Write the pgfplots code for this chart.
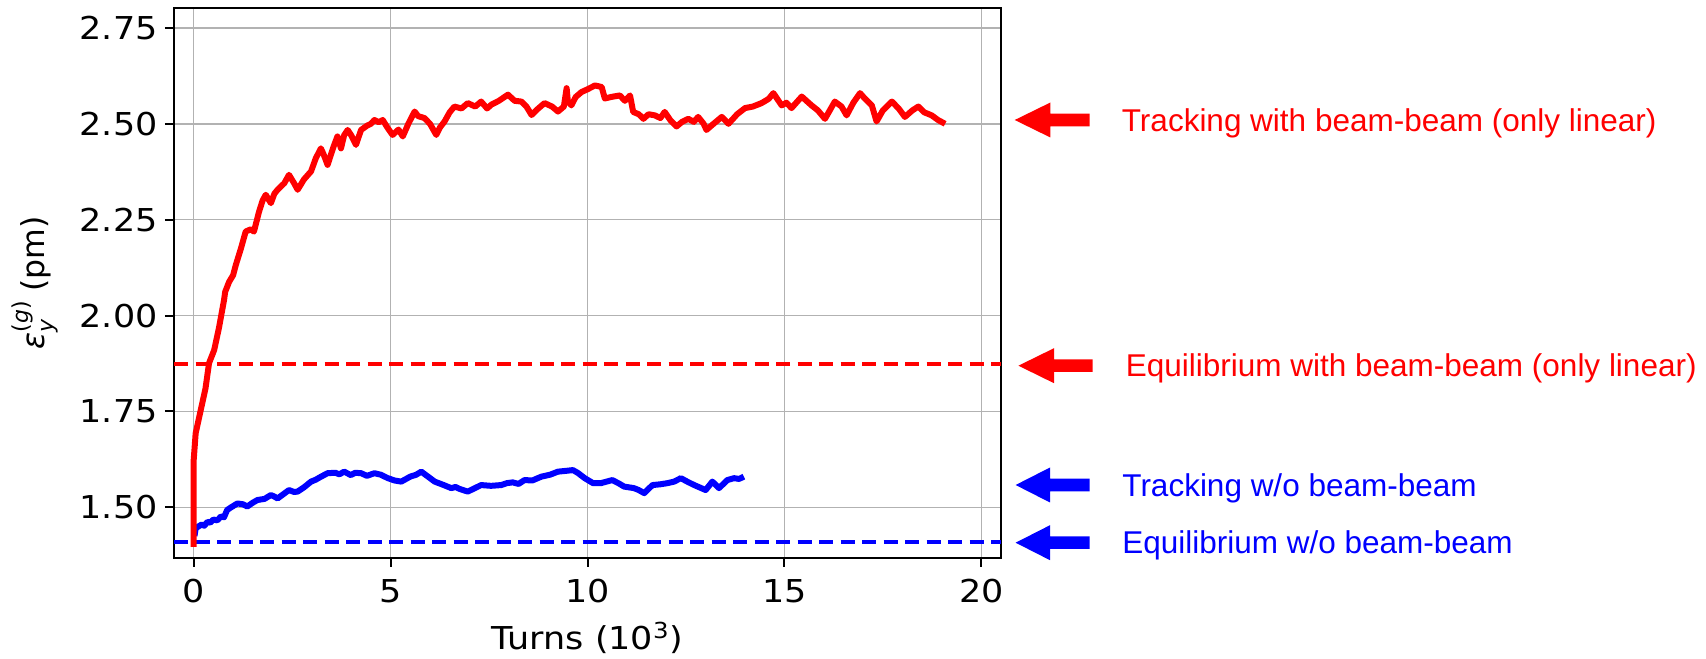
\documentclass[border=0pt]{standalone}
\usepackage{fontspec}
\setmainfont{DejaVu Sans}
\newfontfamily\tickfont{DejaVu Sans}[FakeStretch=1.11]
\newfontfamily\notefont{Liberation Sans}
\usepackage{pgfplots}
\pgfplotsset{compat=1.18}
\definecolor{pyred}{RGB}{255,0,0}
\definecolor{pyblue}{RGB}{0,0,255}
\newcommand{\lblsize}{\fontsize{15.75}{18.9}\selectfont}
\newcommand{\scr}{\fontsize{11}{11}\selectfont}

% block arrow pointing left: tip x, centre y, head base x, tail x (in px units of the scope)
\newcommand{\blockarrow}[5]{%
  \fill[#1] (#2,#3) -- (#4,#3-17.5) -- (#4,#3-6.3) -- (#5,#3-6.3)
            -- (#5,#3+6.3) -- (#4,#3+6.3) -- (#4,#3+17.5) -- cycle;}

\begin{document}
\begin{tikzpicture}
\useasboundingbox (0,0) rectangle (853pt,329pt);

\begin{axis}[
  at={(87pt,50.15pt)}, anchor=south west,
  scale only axis, width=413.5pt, height=274.85pt,
  xmin=-0.5, xmax=20.5, ymin=1.3686, ymax=2.802,
  xtick={0,5,10,15,20}, xticklabels={0,5,10,15,20},
  ytick={1.5,1.75,2,2.25,2.5,2.75},
  yticklabels={1.50,1.75,2.00,2.25,2.50,2.75},
  tick pos=left, tick align=outside, major tick length=4.5pt,
  every tick/.style={black, line width=1pt},
  axis line style={black, line width=1pt},
  grid=major, major grid style={gray!60, line width=0.75pt},
  tick label style={font=\tickfont\lblsize, inner sep=0pt},
  xticklabel style={anchor=north, yshift=-6pt},
  yticklabel style={anchor=east, xshift=-3.5pt},
  every axis x label/.style={at={(axis description cs:0.5,0)}, anchor=base,
    yshift=-45.8pt, inner sep=0pt, font=\tickfont\lblsize},
  every axis y label/.style={at={(axis description cs:0,0.5)}, xshift=-58pt,
    rotate=90, anchor=south, inner sep=0pt, font=\lblsize},
  xlabel={Turns (10\textsuperscript{3})},
  ylabel={{\itshape ε}\rlap{\raisebox{-0.5ex}{\scr\itshape y}}\raisebox{0.95ex}{\scr(\textit{g})}\ (pm)},
]

% equilibrium emittances
\addplot[pyred, line width=2pt, dash pattern=on 7pt off 3.75pt] coordinates {(-0.5,1.873) (20.5,1.873)};
\addplot[pyblue, line width=2pt, dash pattern=on 7pt off 3.75pt] coordinates {(-0.5,1.409) (20.5,1.409)};

% tracking without beam-beam
\addplot[pyblue, line width=3pt, line join=round] coordinates {
(0.02,1.425) (0.05,1.445) (0.12,1.450) (0.20,1.455) (0.27,1.452) (0.35,1.462)
(0.42,1.460) (0.50,1.468) (0.60,1.466) (0.69,1.476) (0.77,1.474) (0.85,1.493)
(0.95,1.500) (1.11,1.510) (1.25,1.508) (1.36,1.502) (1.50,1.512) (1.62,1.519)
(1.80,1.522) (1.96,1.532) (2.05,1.528) (2.13,1.523) (2.30,1.536) (2.42,1.545)
(2.55,1.540) (2.64,1.541) (2.80,1.552) (2.98,1.567) (3.10,1.572) (3.20,1.578)
(3.40,1.589) (3.60,1.590) (3.70,1.586) (3.82,1.593) (3.99,1.584) (4.10,1.590)
(4.25,1.589) (4.40,1.582) (4.59,1.589) (4.75,1.585) (4.93,1.576) (5.10,1.570)
(5.27,1.567) (5.50,1.580) (5.65,1.585) (5.78,1.593) (5.95,1.580) (6.12,1.567)
(6.35,1.558) (6.54,1.550) (6.65,1.553) (6.75,1.548) (6.96,1.541) (7.10,1.548)
(7.30,1.558) (7.55,1.556) (7.81,1.558) (7.95,1.563) (8.10,1.565) (8.25,1.561)
(8.40,1.571) (8.60,1.570) (8.83,1.580) (9.05,1.585) (9.25,1.593) (9.45,1.595)
(9.63,1.597) (9.75,1.590) (9.93,1.576) (10.14,1.563) (10.34,1.563) (10.63,1.571)
(10.80,1.562) (10.93,1.554) (11.18,1.550) (11.30,1.545) (11.44,1.537) (11.65,1.558)
(11.85,1.560) (12.03,1.563) (12.20,1.567) (12.37,1.576) (12.55,1.566) (12.71,1.558)
(13.00,1.545) (13.17,1.567) (13.34,1.550) (13.55,1.571) (13.72,1.576) (13.85,1.574)
(13.97,1.580)
};

% tracking with beam-beam (only linear)
\addplot[pyred, line width=3pt, line join=round] coordinates {
(0.00,1.397) (0.00,1.500) (0.00,1.623) (0.05,1.693) (0.18,1.754) (0.30,1.810)
(0.39,1.876) (0.52,1.910) (0.64,1.967) (0.77,2.040) (0.80,2.062) (0.90,2.088)
(1.00,2.105) (1.07,2.132) (1.20,2.175) (1.32,2.219) (1.45,2.225) (1.53,2.219)
(1.66,2.271) (1.75,2.300) (1.83,2.315) (1.96,2.293) (2.05,2.318) (2.13,2.328)
(2.30,2.345) (2.42,2.367) (2.55,2.345) (2.64,2.328) (2.80,2.355) (2.98,2.376)
(3.10,2.410) (3.23,2.436) (3.30,2.420) (3.40,2.393) (3.55,2.440) (3.65,2.467)
(3.74,2.436) (3.82,2.470) (3.91,2.484) (4.00,2.470) (4.12,2.445) (4.25,2.484)
(4.40,2.495) (4.50,2.500) (4.59,2.510) (4.70,2.504) (4.80,2.510) (4.92,2.490)
(5.05,2.471) (5.20,2.485) (5.31,2.467) (5.45,2.500) (5.61,2.532) (5.70,2.520)
(5.86,2.515) (6.00,2.500) (6.16,2.471) (6.25,2.490) (6.37,2.506) (6.50,2.530)
(6.62,2.545) (6.80,2.540) (6.96,2.554) (7.15,2.545) (7.30,2.558) (7.45,2.540)
(7.56,2.550) (7.75,2.560) (7.98,2.576) (8.15,2.560) (8.32,2.558) (8.45,2.545)
(8.58,2.523) (8.75,2.540) (8.91,2.554) (9.10,2.545) (9.25,2.532) (9.40,2.545)
(9.47,2.593) (9.50,2.560) (9.59,2.548) (9.70,2.570) (9.85,2.583) (10.00,2.590)
(10.19,2.600) (10.36,2.596) (10.44,2.566) (10.60,2.570) (10.82,2.574) (10.95,2.560)
(11.08,2.574) (11.16,2.531) (11.30,2.525) (11.42,2.513) (11.55,2.525) (11.71,2.522)
(11.85,2.515) (11.96,2.531) (12.10,2.510) (12.26,2.493) (12.40,2.505) (12.56,2.513)
(12.70,2.505) (12.81,2.518) (12.95,2.500) (13.02,2.484) (13.20,2.500) (13.41,2.518)
(13.58,2.500) (13.80,2.525) (14.00,2.541) (14.20,2.545) (14.42,2.554) (14.60,2.565)
(14.72,2.580) (14.93,2.548) (15.05,2.555) (15.18,2.541) (15.44,2.571) (15.69,2.548)
(15.85,2.535) (16.03,2.513) (16.28,2.558) (16.45,2.545) (16.58,2.522) (16.75,2.555)
(16.92,2.580) (17.05,2.565) (17.22,2.548) (17.34,2.506) (17.50,2.535) (17.73,2.558)
(17.90,2.540) (18.06,2.518) (18.25,2.535) (18.40,2.545) (18.55,2.530) (18.74,2.522)
(18.90,2.510) (19.08,2.500)
};
\end{axis}

% annotations to the right of the plot (coordinates in px, y downwards)
\begin{scope}[x=0.5pt, y=-0.5pt, shift={(0pt,329pt)}]
  \blockarrow{pyred}{1014.7}{120}{1050.4}{1089.7}
  \blockarrow{pyred}{1018.4}{365.7}{1054}{1092.5}
  \blockarrow{pyblue}{1015.6}{485}{1050}{1089.7}
  \blockarrow{pyblue}{1015.6}{542.7}{1050}{1089.7}
  \begin{scope}[every node/.style={anchor=base west, inner sep=0pt, font=\notefont\lblsize}]
    \node[text=pyred]  at (1121.5,131.7) {Tracking with beam-beam (only linear)};
    \node[text=pyred]  at (1125.5,376.7) {Equilibrium with beam-beam (only linear)};
    \node[text=pyblue] at (1122,496.7) {Tracking w/o beam-beam};
    \node[text=pyblue] at (1122,554) {Equilibrium w/o beam-beam};
  \end{scope}
\end{scope}
\end{tikzpicture}
\end{document}
